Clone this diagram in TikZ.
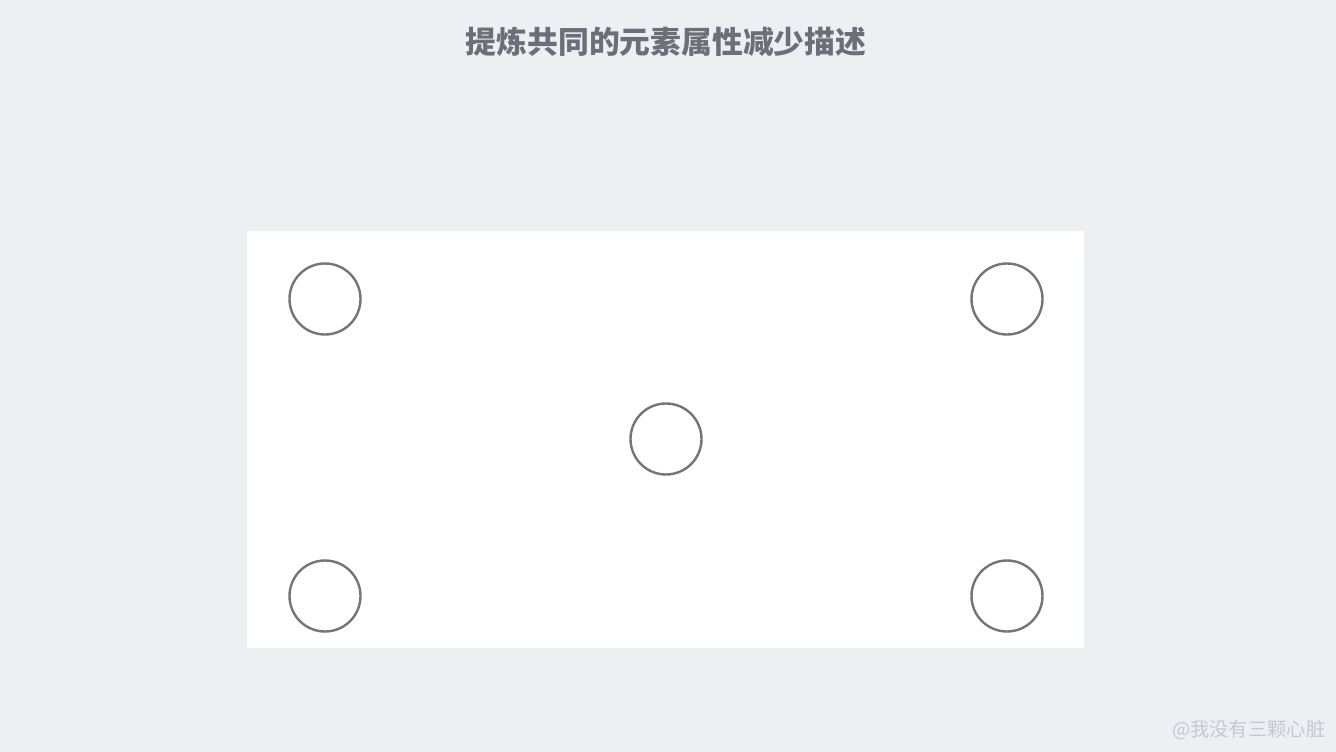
\documentclass[tikz,border=0pt]{standalone}
\usepackage{fontspec}
\newfontfamily\cjk{Noto Sans CJK SC}
\definecolor{bgc}{HTML}{EDF0F3}
\definecolor{titlec}{HTML}{6E6E78}
\definecolor{circc}{HTML}{757575}
\definecolor{wmc}{HTML}{C5C9CF}
\begin{document}
\begin{tikzpicture}[x=1pt,y=-1pt,
  dot/.style={circle,draw=circc,line width=2.4pt,minimum size=71pt,inner sep=0pt}]
\fill[bgc] (0,0) rectangle (1336,752);
\useasboundingbox (0,0) rectangle (1336,752);
\node[font=\cjk\bfseries\fontsize{30.8}{34}\selectfont,text=titlec] (title) at (666,42) {提炼共同的元素属性减少描述};
\node[fill=white,minimum width=837pt,minimum height=417pt,inner sep=0pt] (panel) at (665.5,439.5) {};
\node[dot] (c1) at (325,299) {};
\node[dot] (c2) at (1007,299) {};
\node[dot] (c3) at (666,439) {};
\node[dot] (c4) at (325,596) {};
\node[dot] (c5) at (1007,596) {};
\node[font=\cjk\fontsize{19.3}{22}\selectfont,text=wmc,anchor=east] (wm) at (1329,730) {@我没有三颗心脏};
\end{tikzpicture}
\end{document}
